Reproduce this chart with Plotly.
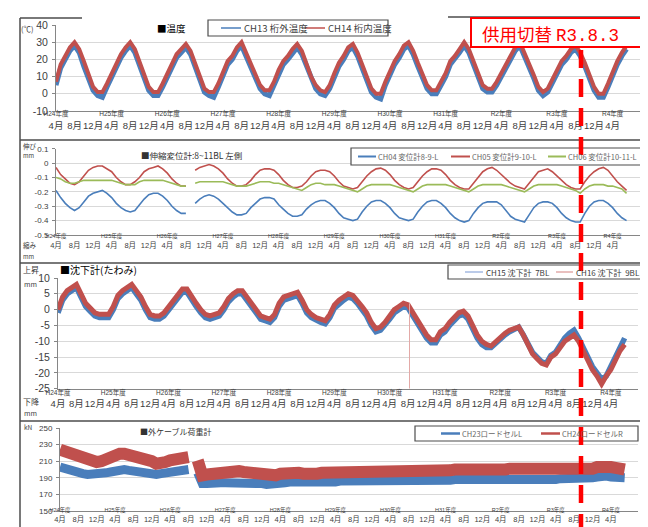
import plotly.graph_objects as go

W, H = 648, 527

# ---------------- data (month index 0 = April 2012, one value per month) -------------
fiscal_years = ["H24", "H25", "H26", "H27", "H28", "H29", "H30", "H31", "R2", "R3", "R4"]
tick_months = ["4月", "8月", "12月"]
n_months = 124
month_index = list(range(n_months))

# Panel 1: temperature (deg C)
temp_ch13 = [
    5, 15, 20, 25, 28, 24, 16, 8, 2, -1, -2, 4,
    10, 16, 21, 25, 28, 24, 17, 9, 2, -1, -1, 4,
    10, 16, 21, 24, 27, 23, 16, 8, 1, -1, -2, 4,
    11, 17, 20, 25, 28, 22, 16, 9, 3, 0, -1, 5,
    12, 17, 20, 24, 27, 23, 16, 8, 3, 0, -1, 3,
    10, 16, 20, 25, 27, 22, 15, 8, 1, -2, -3, 5,
    11, 17, 21, 26, 28, 23, 16, 9, 3, 0, 0, 5,
    10, 17, 20, 24, 28, 24, 17, 9, 3, 1, 1, 5,
    10, 16, 21, 25, 28, 22, 15, 9, 2, -1, 1, 6,
    11, 17, 20, 24, 26, 22, 16, 9, 2, -2, -2, 4,
    11, 17, 22, 26,
]
temp_ch14 = [
    7, 17, 22, 27, 30, 26, 19, 11, 4, 1, 1, 6,
    12, 18, 23, 27, 30, 26, 19, 11, 4, 1, 1, 6,
    12, 18, 23, 26, 29, 25, 18, 10, 3, 1, 1, 6,
    13, 19, 22, 27, 30, 24, 18, 11, 5, 2, 2, 7,
    14, 19, 22, 26, 29, 25, 18, 10, 5, 2, 1, 5,
    12, 18, 22, 27, 29, 24, 17, 10, 3, 0, 0, 7,
    13, 19, 23, 28, 30, 25, 18, 11, 5, 2, 2, 7,
    12, 19, 22, 26, 30, 26, 19, 11, 5, 3, 3, 7,
    12, 18, 23, 27, 30, 24, 17, 11, 4, 1, 3, 8,
    13, 19, 22, 26, 28, 24, 18, 11, 4, 0, 0, 6,
    13, 19, 24, 28,
]

# Panel 2: expansion displacement (mm)
disp_ch04 = [
    -0.19, -0.24, -0.28, -0.31, -0.33, -0.31, -0.27, -0.23, -0.21, -0.20, -0.19, -0.21,
    -0.24, -0.28, -0.31, -0.33, -0.34, -0.33, -0.29, -0.25, -0.22, -0.21, -0.21, -0.23,
    -0.26, -0.30, -0.33, -0.35, -0.35, None, -0.28, -0.25, -0.23, -0.22, -0.23, -0.25,
    -0.28, -0.31, -0.34, -0.36, -0.36, -0.35, -0.31, -0.28, -0.25, -0.24, -0.24, -0.25,
    -0.29, -0.32, -0.35, -0.37, -0.37, -0.36, -0.32, -0.29, -0.27, -0.26, -0.26, -0.28,
    -0.31, -0.35, -0.38, -0.39, -0.40, -0.39, -0.34, -0.30, -0.27, -0.26, -0.26, -0.28,
    -0.31, -0.35, -0.38, -0.39, -0.40, -0.39, -0.34, -0.30, -0.27, -0.26, -0.26, -0.28,
    -0.31, -0.35, -0.38, -0.40, -0.41, -0.40, -0.35, -0.31, -0.28, -0.27, -0.27, -0.27,
    -0.29, -0.33, -0.37, -0.39, -0.40, -0.41, -0.36, -0.31, -0.28, -0.27, -0.27, -0.28,
    -0.31, -0.35, -0.38, -0.40, -0.41, -0.41, -0.35, -0.30, -0.27, -0.26, -0.26, -0.28,
    -0.31, -0.35, -0.38, -0.40,
]
disp_ch05 = [
    -0.03, -0.08, -0.11, -0.14, -0.15, -0.13, -0.09, -0.05, -0.03, -0.02, -0.02, -0.04,
    -0.06, -0.10, -0.13, -0.15, -0.15, -0.13, -0.10, -0.06, -0.04, -0.03, -0.02, -0.04,
    -0.07, -0.11, -0.14, -0.16, -0.16, None, -0.05, -0.03, -0.02, -0.01, -0.02, -0.04,
    -0.07, -0.11, -0.14, -0.16, -0.16, -0.15, -0.12, -0.08, -0.05, -0.04, -0.04, -0.05,
    -0.08, -0.12, -0.15, -0.17, -0.17, -0.16, -0.13, -0.09, -0.06, -0.05, -0.05, -0.06,
    -0.09, -0.13, -0.16, -0.17, -0.18, -0.17, -0.13, -0.09, -0.06, -0.04, -0.035, -0.05,
    -0.08, -0.12, -0.15, -0.17, -0.18, -0.17, -0.13, -0.09, -0.06, -0.04, -0.04, -0.05,
    -0.08, -0.12, -0.15, -0.17, -0.18, -0.18, -0.14, -0.10, -0.06, -0.04, -0.03, -0.05,
    -0.08, -0.11, -0.14, -0.16, -0.17, -0.18, -0.14, -0.10, -0.06, -0.05, -0.04, -0.06,
    -0.09, -0.12, -0.15, -0.17, -0.18, -0.18, -0.13, -0.09, -0.06, -0.04, -0.03, -0.05,
    -0.09, -0.13, -0.16, -0.19,
]
disp_ch06 = [
    -0.10, -0.11, -0.13, -0.14, -0.14, -0.13, -0.12, -0.12, -0.12, -0.12, -0.12, -0.12,
    -0.12, -0.13, -0.14, -0.15, -0.15, -0.15, -0.13, -0.12, -0.12, -0.12, -0.12, -0.12,
    -0.13, -0.14, -0.15, -0.16, -0.16, None, -0.14, -0.13, -0.13, -0.13, -0.13, -0.13,
    -0.13, -0.14, -0.15, -0.16, -0.16, -0.16, -0.15, -0.14, -0.13, -0.13, -0.13, -0.14,
    -0.14, -0.15, -0.16, -0.17, -0.18, -0.19, -0.17, -0.15, -0.14, -0.14, -0.15, -0.15,
    -0.15, -0.16, -0.17, -0.18, -0.19, -0.20, -0.18, -0.16, -0.15, -0.15, -0.15, -0.15,
    -0.15, -0.16, -0.17, -0.18, -0.19, -0.20, -0.18, -0.16, -0.15, -0.15, -0.15, -0.15,
    -0.15, -0.16, -0.17, -0.18, -0.19, -0.20, -0.18, -0.16, -0.15, -0.15, -0.15, -0.15,
    -0.15, -0.16, -0.17, -0.18, -0.19, -0.20, -0.18, -0.16, -0.15, -0.15, -0.15, -0.15,
    -0.15, -0.16, -0.17, -0.18, -0.19, -0.21, -0.18, -0.16, -0.15, -0.15, -0.15, -0.16,
    -0.16, -0.17, -0.18, -0.21,
]

# Panel 3: settlement / deflection (mm)
settle_ch15 = [
    -1, 3, 5, 6, 7, 4, 1, -0.5, -2, -2.5, -2.5, -2.5,
    0, 3.5, 5, 6, 7, 5, 3, 0, -2.5, -3, -3, -2,
    0, 2, 4, 5.5, 5.5, 3, 1, -1, -2.5, -3, -2.5, -2,
    0, 2.5, 4, 5, 5, 3, 1, -1, -3, -3.5, -4, -2.5,
    1, 3, 3.5, 4, 4.5, 2, -1, -2.5, -3.5, -4, -4.5, -2.5,
    0.5, 2, 3, 4, 3.5, 2, 0, -2, -5, -7, -6.5, -5,
    -3, -1, 0, 1, 0.5, -2, -4, -7, -9, -10.5, -10.5, -8,
    -7, -5, -3.5, -2, -1.5, -3, -6, -9, -11, -12, -12, -10.5,
    -9.5, -8, -7, -6, -5.5, -8, -11, -13.5, -15, -16.5, -17, -14.5,
    -13.5, -11, -9, -7.5, -6.5, -9, -12, -15, -18, -20, -22, -21,
    -18, -15, -11.5, -9,
]
settle_ch16 = [
    0, 4, 6, 7, 8, 5, 2, 0.5, -1, -1.5, -1.5, -1.5,
    1, 4.5, 6, 7, 8, 6, 4, 1, -1.5, -2, -2, -1,
    1, 3, 5, 6.5, 6.5, 4, 2, 0, -1.5, -2, -1.5, -1,
    1, 3.5, 5, 6, 6, 4, 2, 0, -2, -2.5, -3, -1.5,
    2, 4, 4.5, 5, 5.5, 3, 0, -1.5, -2.5, -3, -3.5, -1.5,
    1.5, 3, 4, 5, 4.5, 3, 1, -1, -4, -6, -5.5, -4,
    -2, 0, 1, 2, 1.5, -1, -3, -6, -8, -9.5, -9.5, -7,
    -6, -4, -2.5, -1, -0.5, -2, -5, -8, -10, -11, -11.5, -10,
    -9, -7.5, -6.5, -6, -5.5, -8, -11, -14, -15.5, -17, -17.5, -15,
    -14, -12, -10, -9, -8, -10, -13, -16, -19, -21, -23.5, -21,
    -19, -16, -13, -11,
]
spike_month = 76.3          # single outlier reading of CH16
spike_values = [2, -25]

# Panel 4: external cable load cells (kN)
load_ch23 = [
    203, 201, 199, 197, 196, 195, 194, 194, 194, 195, 196, 197,
    198, 200, 200, 199, 198, 197, 196, 195, 194, 194, 195, 196,
    197, 198, 199, 199, 200, None, 196, 183, 183, 184, 184, 184,
    184, 184, 185, 185, 185, 184, 183, 183, 183, 182, 182, 183,
    183, 184, 185, 185, 185, 184, 183, 183, 184, 184, 185, 185,
    185, 186, 186, 186, 186, 185, 185, 185, 186, 186, 185, 185,
    185, 186, 186, 187, 187, 186, 185, 185, 186, 186, 186, 186,
    186, 187, 188, 188, 188, 187, 186, 186, 187, 187, 187, 187,
    187, 188, 188, 188, 188, 188, 187, 187, 188, 188, 188, 188,
    188, 189, 189, 189, 188, 188, 188, 189, 190, 191, 192, 192,
    191, 190, 190, 190,
]
load_ch24 = [
    224, 222, 220, 218, 216, 214, 212, 210, 209, 210, 213, 215,
    217, 219, 219, 218, 217, 215, 214, 212, 210, 207, 207, 209,
    211, 213, 214, 214, 215, None, 211, 193, 194, 195, 196, 196,
    197, 196, 197, 198, 197, 196, 195, 195, 194, 193, 192, 193,
    195, 196, 197, 197, 196, 195, 194, 194, 195, 196, 196, 196,
    197, 198, 199, 199, 198, 197, 196, 196, 197, 197, 196, 196,
    196, 197, 198, 198, 198, 197, 196, 197, 198, 198, 197, 197,
    198, 199, 200, 200, 200, 199, 197, 197, 198, 198, 197, 197,
    198, 200, 201, 201, 201, 200, 198, 198, 199, 199, 198, 198,
    199, 200, 201, 201, 200, 199, 198, 199, 201, 203, 204, 204,
    203, 202, 201, 200,
]

cutover_label_jp = "供用切替"
cutover_label_date = "R3.8.3"

# ---------------- styling ----------------
BLUE = "#4A7EBB"
RED = "#C0504D"
GREEN = "#9BBB59"
GRID = "#D9D9D9"
AXIS = "#868686"
FRAME = "#4D4D4D"
TXT = "#404040"
JP = "Noto Sans CJK JP"
NUM = "Liberation Sans, Noto Sans CJK JP"


def px(x):
    return x / W


def py(y):
    return 1 - y / H


# tick values / labels shared by all panels
tickvals, ticktext_big, ticktext_small = [], [], []
for k, fy in enumerate(fiscal_years):
    for j, m in enumerate(tick_months):
        v = 12 * k + 4 * j
        if v > 120:
            continue
        tickvals.append(v)
        if j == 0:
            ticktext_big.append(f"<span style='font-size:6.5px'>{fy}年度</span><br>{m}")
            ticktext_small.append(f"<span style='font-size:5.5px'>{fy}年度</span><br>{m}")
        else:
            ticktext_big.append(f" <br>{m}")
            ticktext_small.append(f" <br>{m}")

fig = go.Figure()

panels = [
    dict(xl=48, xr=632, yt=17, yb=103, yr=[-10, 40], yv=[-10, 0, 10, 20, 30, 40], yfs=10.5, small=False, so=-7),
    dict(xl=48, xr=632, yt=140.7, yb=227, yr=[-0.5, 0.1], yv=[-0.5, -0.4, -0.3, -0.2, -0.1, 0, 0.1], yfs=8, small=True, so=-7),
    dict(xl=50, xr=630, yt=270, yb=380.7, yr=[-25, 10], yv=[-25, -20, -15, -10, -5, 0, 5, 10], yfs=10.5, small=False, so=-6),
    dict(xl=52, xr=630, yt=420, yb=503, yr=[150, 250], yv=[150, 170, 190, 210, 230, 250], yfs=8, small=True, so=-9),
]

for i, p in enumerate(panels, start=1):
    sx = "" if i == 1 else str(i)
    fig.layout[f"xaxis{sx}"] = dict(
        domain=[px(p["xl"]), px(p["xr"])], range=[0, 125.9], anchor=f"y{sx}",
        tickvals=tickvals, ticktext=ticktext_small if p["small"] else ticktext_big,
        tickfont=dict(family=NUM, size=7.5 if p["small"] else 9.5, color=TXT),
        showgrid=False, zeroline=False, showline=True, linecolor=AXIS, linewidth=1,
        ticks="", tickangle=0, fixedrange=True, automargin=False, ticklabelstandoff=p["so"],
    )
    yt = [("%g" % v) for v in p["yv"]]
    fig.layout[f"yaxis{sx}"] = dict(
        domain=[py(p["yb"]), py(p["yt"])], range=p["yr"], anchor=f"x{sx}",
        tickvals=p["yv"], ticktext=yt,
        tickfont=dict(family=NUM, size=p["yfs"], color=TXT),
        showgrid=True, gridcolor=GRID, gridwidth=1, zeroline=False,
        showline=True, linecolor=AXIS, linewidth=1, ticks="outside", ticklen=3, tickcolor=AXIS,
        fixedrange=True, automargin=False, ticklabelstandoff=2,
    )


def add(y, color, width, name, n):
    sx = "" if n == 1 else str(n)
    fig.add_trace(go.Scatter(
        x=month_index, y=y, mode="lines", name=name, showlegend=False,
        line=dict(color=color, width=width, shape="linear"),
        xaxis=f"x{sx}", yaxis=f"y{sx}", connectgaps=False, hoverinfo="skip"))


add(temp_ch13, BLUE, 5, "CH13 桁外温度", 1)
add(temp_ch14, RED, 4, "CH14 桁内温度", 1)
add(disp_ch04, BLUE, 1.6, "CH04 変位計8-9-L", 2)
add(disp_ch05, RED, 1.6, "CH05 変位計9-10-L", 2)
add(disp_ch06, GREEN, 1.6, "CH06 変位計10-11-L", 2)
add(settle_ch15, BLUE, 5.5, "CH15 沈下計 7BL", 3)
add(settle_ch16, RED, 5, "CH16 沈下計 9BL", 3)
fig.add_trace(go.Scatter(x=[spike_month, spike_month], y=spike_values, mode="lines",
                         line=dict(color="#E3A9A7", width=1), xaxis="x3", yaxis="y3",
                         showlegend=False, hoverinfo="skip"))
add(load_ch23, BLUE, 9, "CH23ロードセルL", 4)
add(load_ch24, RED, 12, "CH24ロードセルR", 4)

shapes = []
ann = []


def line(x0, y0, x1, y1, color=FRAME, width=1.5, dash=None):
    shapes.append(dict(type="line", xref="paper", yref="paper", x0=px(x0), y0=py(y0),
                       x1=px(x1), y1=py(y1), line=dict(color=color, width=width, dash=dash)))


def rect(x0, y0, x1, y1, color=FRAME, width=1.2, fill="white"):
    shapes.append(dict(type="rect", xref="paper", yref="paper", x0=px(x0), y0=py(y1),
                       x1=px(x1), y1=py(y0), line=dict(color=color, width=width), fillcolor=fill))


def text(x, y, s, size, color=TXT, family=JP, anchor="left"):
    ann.append(dict(xref="paper", yref="paper", x=px(x), y=py(y), text=s, showarrow=False,
                    xanchor=anchor, yanchor="middle", font=dict(size=size, color=color, family=family)))


# panel frames
line(12, 10, 12, 527)
line(643, 8, 643, 527)
line(12, 10, 74, 10)
line(440, 9, 643, 9)
line(12, 132, 643, 132)
line(12, 255, 643, 255)
line(12, 413, 643, 413)

# legends
rect(200, 12, 380, 28)
line(213, 20, 233, 20, BLUE, 1.5)
text(234, 20, "CH13 桁外温度", 9.5)
line(297, 20, 317, 20, RED, 1.5)
text(318, 20, "CH14 桁内温度", 9.5)

rect(343, 140, 635, 157)
line(350, 148.5, 368, 148.5, BLUE, 2)
text(368, 148.5, "CH04 変位計8-9-L", 7.5, "#666666")
line(443, 148.5, 462, 148.5, RED, 2)
text(462, 148.5, "CH05 変位計9-10-L", 7.5, "#666666")
line(540, 148.5, 558, 148.5, GREEN, 2)
text(558, 148.5, "CH06 変位計10-11-L", 7.5, "#666666")

rect(440, 257, 635, 271)
line(457, 264, 475, 264, "#8EA9DB", 1.2)
text(476, 264, "CH15 沈下計  7BL", 8)
line(548, 264, 565, 264, "#DA9694", 1.2)
text(566, 264, "CH16 沈下計  9BL", 8)

rect(407, 418, 630, 433)
line(433, 425.5, 452, 425.5, BLUE, 2.5)
text(452, 425.5, "CH23ロードセルL", 7.5, "#666666")
line(533, 425.5, 552, 425.5, RED, 2.5)
text(552, 425.5, "CH24ロードセルR", 7.5, "#666666")

# titles and unit labels
text(147, 20, "■温度", 9.5, "#000000")
text(131, 147, "■伸縮変位計:8~11BL 左側", 8.5, "#333333")
text(50, 262, "■沈下計(たわみ)", 10, "#000000")
text(130, 423, "■外ケーブル荷重計", 8, "#333333")

text(11, 20, "(℃)", 7.5)
text(13, 138, "伸び", 6.5)
text(13, 147, "mm", 6)
text(13, 237, "縮み", 6.5)
text(13, 249, "mm", 6)
text(13, 262, "上昇", 8)
text(14, 276, "mm", 7)
text(13, 393, "下降", 8)
text(14, 405, "mm", 7)
text(14, 419, "kN", 6.5)

# cutover marker
line(573, 42, 573, 527, "#FF0000", 4.5, "18px,11px")
rect(463, 10, 639, 39, "#FF0000", 2, "white")
text(472, 25, f"{cutover_label_jp} <span style='font-family:Liberation Mono'>{cutover_label_date}</span>",
     17.5, "#FF0000", JP, "left")

fig.update_layout(
    width=W, height=H, margin=dict(l=0, r=0, t=0, b=0, autoexpand=False),
    paper_bgcolor="white", plot_bgcolor="white", showlegend=False,
    shapes=shapes, annotations=ann,
)

fig.write_html("out.html")
